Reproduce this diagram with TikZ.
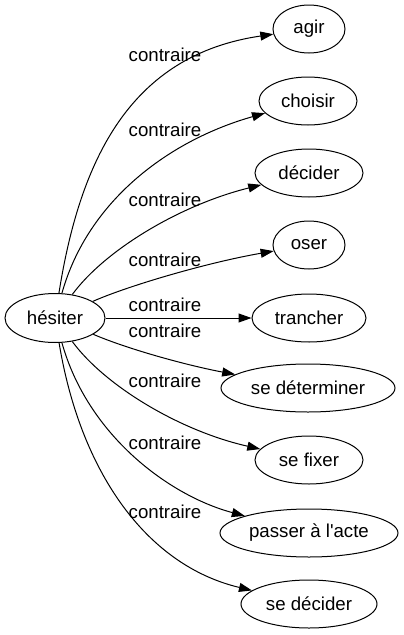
\documentclass[tikz,border=0pt]{standalone}
\usepackage{fontspec}
\setmainfont{Liberation Sans}[Ligatures=TeXOff]
\usetikzlibrary{shapes.geometric,arrows.meta}
\begin{document}
\begin{tikzpicture}[x=1pt,y=-1pt,
  every node/.style={font=\fontsize{18.67}{20}\selectfont},
  nd/.style={draw,ellipse,line width=1pt,inner sep=0pt,minimum height=48pt},
  edge/.style={draw,line width=1pt,-{Triangle[length=13pt,width=9pt]}},
  lbl/.style={anchor=base,inner sep=0pt}]
\useasboundingbox (0,0) rectangle (404,635);
\node[nd,minimum width=100pt,minimum height=49pt] (h) at (55,318) {hésiter};
\node[nd,minimum width=72pt]  (n1) at (309,29)  {agir};
\node[nd,minimum width=98pt]  (n2) at (308,101) {choisir};
\node[nd,minimum width=108pt] (n3) at (309,173) {décider};
\node[nd,minimum width=72pt]  (n4) at (309,245) {oser};
\node[nd,minimum width=114pt] (n5) at (309,318) {trancher};
\node[nd,minimum width=174pt] (n6) at (308,388) {se déterminer};
\node[nd,minimum width=108pt] (n7) at (309,460) {se fixer};
\node[nd,minimum width=178pt] (n8) at (309,533) {passer à l'acte};
\node[nd,minimum width=136pt] (n9) at (309,604) {se décider};
\draw[edge] (h) .. controls (80,160) and (130,55) .. (n1);
\draw[edge] (h) .. controls (88,200) and (170,140) .. (n2);
\draw[edge] (h) .. controls (105,250) and (180,205) .. (n3);
\draw[edge] (h) .. controls (130,285) and (210,262) .. (n4);
\draw[edge] (h) -- (n5);
\draw[edge] (h) .. controls (130,350) and (190,366) .. (n6);
\draw[edge] (h) .. controls (105,386) and (180,431) .. (n7);
\draw[edge] (h) .. controls (88,436) and (170,496) .. (n8);
\draw[edge] (h) .. controls (80,470) and (145,565) .. (n9);
\node[lbl] (l1) at (165,61)  {contraire};
\node[lbl] (l2) at (165,136) {contraire};
\node[lbl] (l3) at (165,206) {contraire};
\node[lbl] (l4) at (165,266) {contraire};
\node[lbl] (l5) at (165,311) {contraire};
\node[lbl] (l6) at (165,337) {contraire};
\node[lbl] (l7) at (165,387) {contraire};
\node[lbl] (l8) at (165,449) {contraire};
\node[lbl] (l9) at (165,518) {contraire};
\end{tikzpicture}
\end{document}
